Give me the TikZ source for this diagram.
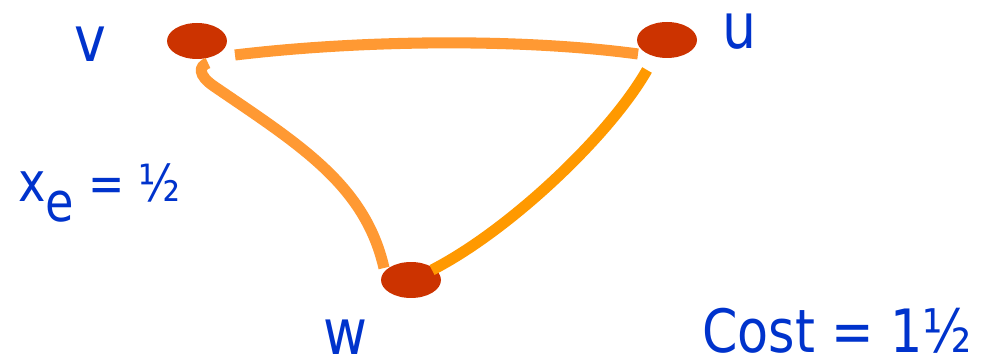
\documentclass[tikz,border=0pt]{standalone}
\usepackage{fontspec}
\setmainfont{DejaVu Sans}
\newfontfamily\labelfont[FakeStretch=0.85]{DejaVu Sans}
\usetikzlibrary{shapes.geometric,calc}

\definecolor{vertexred}{RGB}{204,51,0}
\definecolor{edgelight}{RGB}{255,153,51}
\definecolor{edgedark}{RGB}{255,153,0}
\definecolor{labelblue}{RGB}{0,51,204}

\tikzset{
    vertex/.style={ellipse, fill=vertexred, minimum width=1.2cm, minimum height=0.72cm, inner sep=0pt},
    halfedge/.style={line width=6.3pt, edgelight},
    lbl/.style={text=labelblue, inner sep=0pt, text depth=0pt, font=\labelfont\fontsize{36}{36}\selectfont},
}

\begin{document}
\begin{tikzpicture}[x=0.02cm, y=-0.02cm]
    \useasboundingbox (0,0) rectangle (983,364);

    \node[vertex] (v) at (197,41) {};
    \node[vertex] (u) at (667,40) {};
    \node[vertex] (w) at (411,280) {};

    \coordinate (vu-start) at ($(v)+(38,14)$);
    \coordinate (vu-end) at ($(u)+(-29,14)$);
    \draw[halfedge] (vu-start) .. controls (360,40) and (520,38) .. (vu-end);

    \coordinate (vw-start) at ($(v)+(11,22)$);
    \coordinate (vw-bend) at ($(v)+(18,46)$);
    \coordinate (vw-end) at ($(w)+(-27,-12)$);
    \draw[halfedge] (vw-start) .. controls (199,66) and (197,75) .. (vw-bend)
        .. controls (300,145) and (365,185) .. (vw-end);

    \coordinate (uw-start) at ($(u)+(-20,30)$);
    \coordinate (uw-end) at ($(w)+(21,-10)$);
    \draw[halfedge, edgedark] (uw-start) .. controls (610,135) and (510,230) .. (uw-end);

    \node[lbl, anchor=base] (v-label) at (90,62) {v};
    \node[lbl, anchor=base] (u-label) at (740,49) {u};
    \node[lbl, anchor=base] (w-label) at (345,355) {w};
    \node[lbl, anchor=base west, font=\labelfont\fontsize{31}{31}\selectfont] (xe-label) at (18,202)
        {x\raisebox{-11pt}{e} {\fontsize{29}{29}\selectfont = ½}};
    \node[lbl, anchor=base west, font=\labelfont\fontsize{34}{34}\selectfont] (cost-label) at (702,353) {Cost = 1½};
\end{tikzpicture}
\end{document}
